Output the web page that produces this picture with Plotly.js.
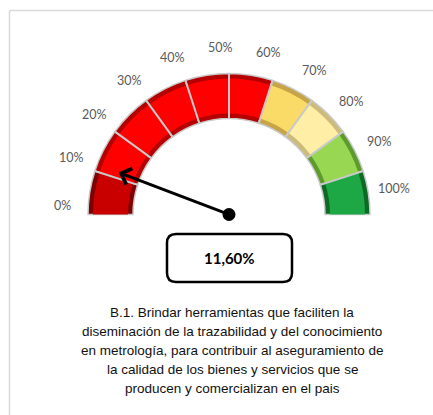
<!DOCTYPE html>
<html><head><meta charset="utf-8">
<script src="https://cdn.plot.ly/plotly-3.0.1.min.js"></script>
<style>html,body{margin:0;padding:0;background:#fff}</style>
</head><body>
<div id="chart" style="width:433px;height:415px"></div>
<script>
// ---- data ----
const tickValues = [0, 10, 20, 30, 40, 50, 60, 70, 80, 90, 100];
const tickLabels = ['0%', '10%', '20%', '30%', '40%', '50%', '60%', '70%', '80%', '90%', '100%'];
const segmentValues = [10, 10, 10, 10, 10, 10, 10, 10, 10, 10];
const segmentColors = ['#C80000', '#FF0000', '#FF0000', '#FF0000', '#FF0000', '#FF0000', '#FBDB68', '#FFEFA6', '#97D752', '#1EA845'];
const segmentShades = ['#7E0000', '#B40000', '#B40000', '#B40000', '#B40000', '#B40000', '#C7A448', '#CDBB7C', '#5E9A2C', '#0D6A25'];
const gaugeValue = 11.6;
const gaugeText = '11,60%';
const captionLines = [
  'B.1. Brindar herramientas que faciliten la',
  'diseminación de la trazabilidad y del conocimiento',
  'en metrología, para contribuir al aseguramiento de',
  'la calidad de los bienes y servicios que se',
  'producen y comercializan en el pais'
];

// ---- layout geometry ----
const W = 433, H = 415;
const cx = 229, cy = 214.5, R = 141, r = 96;
const total = segmentValues.reduce((a, b) => a + b, 0);

function dom(rad) {
  return { x: [(cx - rad) / W, (cx + rad) / W], y: [(H - cy - rad) / H, (H - cy + rad) / H] };
}
function pt(v, rad) {
  const a = Math.PI * (1 - v / total);
  return [cx + rad * Math.cos(a), cy - rad * Math.sin(a)];
}

const vals = segmentValues.concat([total]);
const n = segmentValues.length;

const basePie = {
  type: 'pie', values: vals, sort: false, direction: 'clockwise', rotation: -90,
  hole: r / R, domain: dom(R), textinfo: 'none', hoverinfo: 'skip', showlegend: false,
  marker: {
    colors: segmentShades.concat(['rgba(0,0,0,0)']),
    line: { color: Array(n).fill('#C9C9C9').concat(['rgba(0,0,0,0)']), width: Array(n).fill(1.5).concat([0]) }
  }
};
const inset = 5;
const facePie = {
  type: 'pie', values: vals, sort: false, direction: 'clockwise', rotation: -90,
  hole: (r + inset) / (R - inset), domain: dom(R - inset), textinfo: 'none', hoverinfo: 'skip', showlegend: false,
  marker: { colors: segmentColors.concat(['rgba(0,0,0,0)']), line: { width: 0 } }
};
const dot = {
  type: 'scatter', mode: 'markers', x: [cx], y: [cy], marker: { color: '#000', size: 13 },
  hoverinfo: 'skip', showlegend: false
};

const shapes = [];
tickValues.slice(1, -1).forEach(v => {
  const p0 = pt(v, r), p1 = pt(v, R);
  shapes.push({ type: 'line', xref: 'x', yref: 'y', x0: p0[0], y0: p0[1], x1: p1[0], y1: p1[1],
    line: { color: '#C9C9C9', width: 2 }, layer: 'above' });
});
// frame
shapes.push({ type: 'line', xref: 'x', yref: 'y', x0: 9.5, y0: 10.5, x1: 433, y1: 10.5, line: { color: '#D9D9D9', width: 1.5 } });
shapes.push({ type: 'line', xref: 'x', yref: 'y', x0: 9.5, y0: 10.5, x1: 9.5, y1: 415, line: { color: '#D9D9D9', width: 1.5 } });
// value box
const bx0 = 167, bx1 = 292, by0 = 234, by1 = 282, c = 9;
shapes.push({ type: 'path', xref: 'x', yref: 'y', layer: 'above',
  path: `M${bx0 + c},${by0} L${bx1 - c},${by0} Q${bx1},${by0} ${bx1},${by0 + c} L${bx1},${by1 - c} Q${bx1},${by1} ${bx1 - c},${by1} L${bx0 + c},${by1} Q${bx0},${by1} ${bx0},${by1 - c} L${bx0},${by0 + c} Q${bx0},${by0} ${bx0 + c},${by0} Z`,
  line: { color: '#000', width: 2.5 }, fillcolor: '#fff' });

const annotations = [];
tickValues.forEach((v, i) => {
  const ang = (177 - 16.8 * (v / 10)) * Math.PI / 180;
  annotations.push({ xref: 'x', yref: 'y', x: cx + 167 * Math.cos(ang), y: cy - 167 * Math.sin(ang),
    text: tickLabels[i], showarrow: false, font: { family: 'Lato', size: 12.5, color: '#595959' } });
});
const tip = pt(gaugeValue, 118);
annotations.push({ xref: 'x', yref: 'y', axref: 'x', ayref: 'y', x: tip[0], y: tip[1], ax: cx, ay: cy,
  text: '', showarrow: true, arrowhead: 4, arrowsize: 1.1, arrowwidth: 3, arrowcolor: '#000', standoff: 0 });
annotations.push({ xref: 'x', yref: 'y', x: (bx0 + bx1) / 2, y: (by0 + by1) / 2, text: '<b>' + gaugeText + '</b>',
  showarrow: false, font: { family: 'Lato', size: 15, color: '#000' } });
captionLines.forEach((t, i) => {
  annotations.push({ xref: 'x', yref: 'y', x: 232, y: 312 + i * 19, text: t, showarrow: false,
    font: { family: 'Liberation Sans', size: 13.5, color: '#111' } });
});

const layout = {
  width: W, height: H, margin: { l: 0, r: 0, t: 0, b: 0 },
  paper_bgcolor: '#fff', plot_bgcolor: 'rgba(0,0,0,0)',
  xaxis: { range: [0, W], visible: false, fixedrange: true },
  yaxis: { range: [H, 0], visible: false, fixedrange: true },
  shapes, annotations
};
Plotly.newPlot('chart', [basePie, facePie, dot], layout, { staticPlot: true });
</script>
</body></html>
